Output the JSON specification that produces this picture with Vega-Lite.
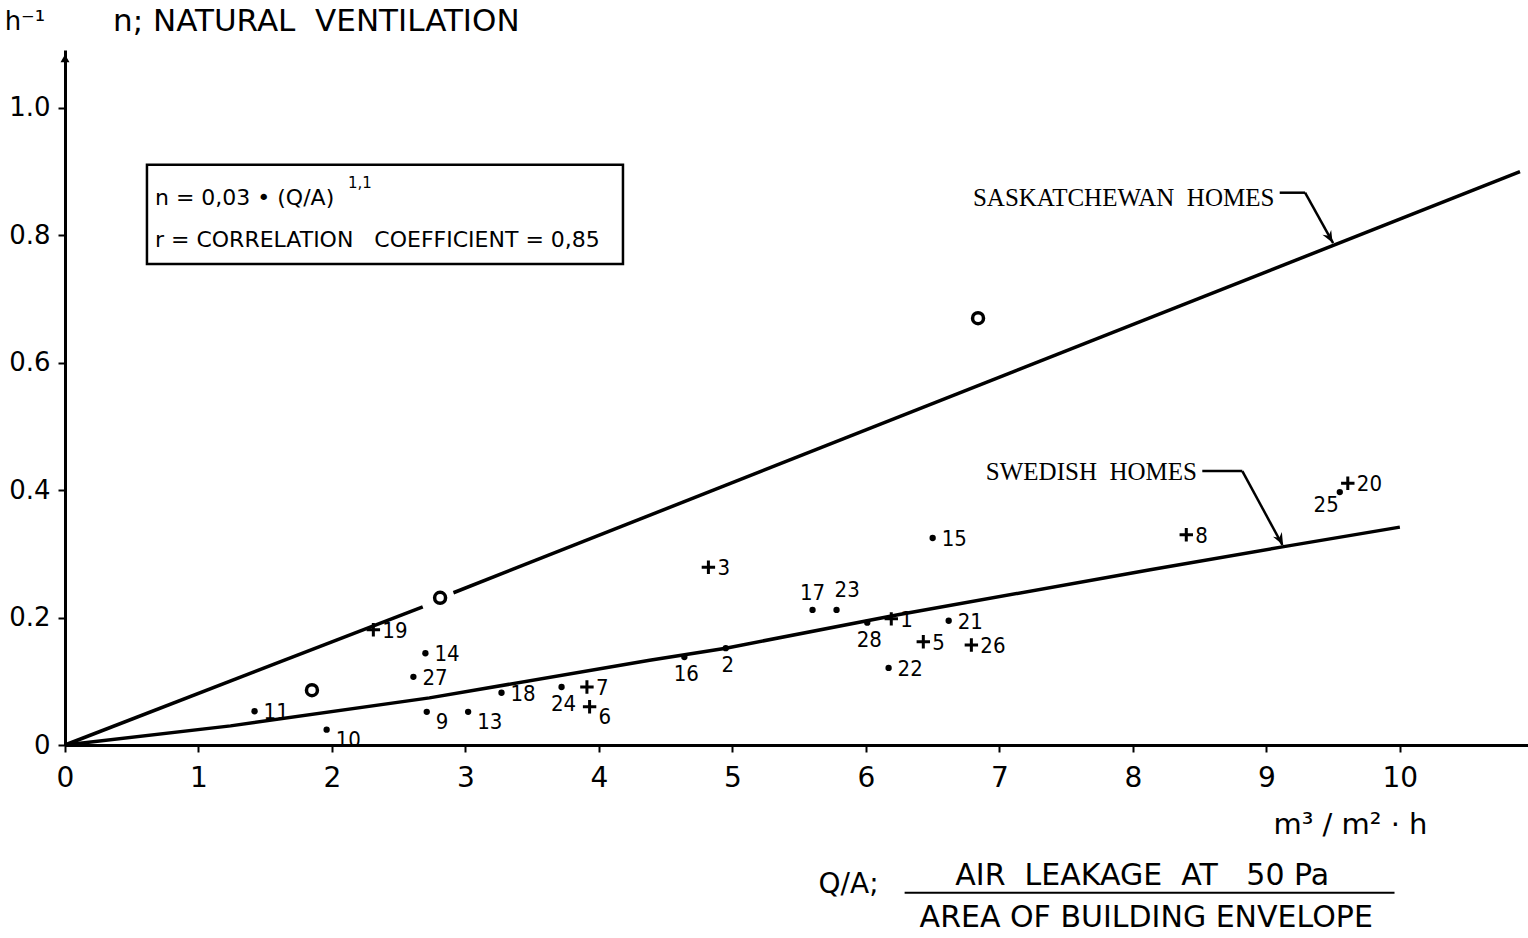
{
  "$schema": "https://vega.github.io/schema/vega-lite/v6.json",
  "width": 1463,
  "height": 695,
  "autosize": {"type": "none"},
  "padding": {"left": 65, "top": 50, "right": 0, "bottom": 193},
  "background": "white",
  "data": {"values": [{}]},
  "config": {
    "view": {"stroke": null},
    "font": "DejaVu Sans",
    "axis": {"grid": false, "domainColor": "black", "tickColor": "black", "labelColor": "black", "labelFont": "DejaVu Sans"},
    "text": {"color": "black", "font": "DejaVu Sans"}
  },
  "datasets": {
    "homes": [
      {"id": "1", "x": 6.19, "y": 0.198, "m": "plus", "p": "right"},
      {"id": "2", "x": 4.95, "y": 0.152, "m": "dot", "p": "below"},
      {"id": "3", "x": 4.82, "y": 0.279, "m": "plus", "p": "right"},
      {"id": "5", "x": 6.43, "y": 0.162, "m": "plus", "p": "right"},
      {"id": "6", "x": 3.93, "y": 0.060, "m": "plus", "p": "rightbelow"},
      {"id": "7", "x": 3.91, "y": 0.091, "m": "plus", "p": "right"},
      {"id": "8", "x": 8.40, "y": 0.330, "m": "plus", "p": "right"},
      {"id": "9", "x": 2.71, "y": 0.052, "m": "dot", "p": "rightbelow"},
      {"id": "10", "x": 1.96, "y": 0.024, "m": "dot", "p": "rightbelow"},
      {"id": "11", "x": 1.42, "y": 0.053, "m": "dot", "p": "right"},
      {"id": "13", "x": 3.02, "y": 0.052, "m": "dot", "p": "rightbelow"},
      {"id": "14", "x": 2.70, "y": 0.144, "m": "dot", "p": "right"},
      {"id": "15", "x": 6.50, "y": 0.325, "m": "dot", "p": "right"},
      {"id": "16", "x": 4.64, "y": 0.138, "m": "dot", "p": "below"},
      {"id": "17", "x": 5.60, "y": 0.212, "m": "dot", "p": "above"},
      {"id": "18", "x": 3.27, "y": 0.082, "m": "dot", "p": "right"},
      {"id": "19", "x": 2.31, "y": 0.181, "m": "plus", "p": "right"},
      {"id": "20", "x": 9.61, "y": 0.411, "m": "plus", "p": "right"},
      {"id": "21", "x": 6.62, "y": 0.195, "m": "dot", "p": "right"},
      {"id": "22", "x": 6.17, "y": 0.121, "m": "dot", "p": "right"},
      {"id": "23", "x": 5.78, "y": 0.212, "m": "dot", "p": "aboveright"},
      {"id": "24", "x": 3.72, "y": 0.091, "m": "dot", "p": "below"},
      {"id": "25", "x": 9.55, "y": 0.397, "m": "dot", "p": "leftbelow"},
      {"id": "26", "x": 6.79, "y": 0.157, "m": "plus", "p": "right"},
      {"id": "27", "x": 2.61, "y": 0.107, "m": "dot", "p": "right"},
      {"id": "28", "x": 6.01, "y": 0.192, "m": "dot", "p": "below"}
    ],
    "sask_points": [
      {"x": 1.85, "y": 0.086},
      {"x": 2.81, "y": 0.231},
      {"x": 6.84, "y": 0.670}
    ],
    "sask_line": [
      {"seg": "a", "x": 0, "y": 0},
      {"seg": "a", "x": 2.68, "y": 0.217},
      {"seg": "b", "x": 2.91, "y": 0.239},
      {"seg": "b", "x": 10.9, "y": 0.9}
    ],
    "swedish_line": [
      {"x": 0, "y": 0},
      {"x": 1.24, "y": 0.030},
      {"x": 2.73, "y": 0.074},
      {"x": 4.38, "y": 0.133},
      {"x": 4.95, "y": 0.152},
      {"x": 6.25, "y": 0.205},
      {"x": 8.13, "y": 0.275},
      {"x": 9.12, "y": 0.311},
      {"x": 10, "y": 0.342}
    ]
  },
  "layer": [
    {
      "data": {"name": "swedish_line"},
      "mark": {"type": "line", "color": "black", "strokeWidth": 3.5},
      "encoding": {
        "x": {"field": "x", "type": "quantitative", "title": null,
          "scale": {"domain": [0, 10.96], "nice": false, "zero": false},
          "axis": {"values": [0, 1, 2, 3, 4, 5, 6, 7, 8, 9, 10], "format": "d", "tickSize": 7, "tickWidth": 2, "domainWidth": 3, "labelFontSize": 28, "labelPadding": 12, "labelFlush": false, "labelOverlap": false}},
        "y": {"field": "y", "type": "quantitative", "title": null,
          "scale": {"domain": [0, 1.091], "nice": false, "zero": false},
          "axis": {"values": [0, 0.2, 0.4, 0.6, 0.8, 1.0], "tickSize": 7, "tickWidth": 2, "domainWidth": 3, "labelFontSize": 26, "labelPadding": 8, "labelFlush": false, "labelOverlap": false, "labelExpr": "datum.value == 0 ? '0' : format(datum.value, '.1f')"}}
      }
    },
    {
      "data": {"name": "sask_line"},
      "mark": {"type": "line", "color": "black", "strokeWidth": 3.5},
      "encoding": {
        "x": {"field": "x", "type": "quantitative", "title": null},
        "y": {"field": "y", "type": "quantitative", "title": null},
        "detail": {"field": "seg"}
      }
    },
    {
      "data": {"name": "sask_points"},
      "mark": {"type": "point", "shape": "circle", "filled": false, "color": "black", "strokeWidth": 3.5, "size": 120, "opacity": 1},
      "encoding": {
        "x": {"field": "x", "type": "quantitative", "title": null},
        "y": {"field": "y", "type": "quantitative", "title": null}
      }
    },
    {
      "data": {"name": "homes"},
      "transform": [{"filter": "datum.m == 'dot'"}],
      "mark": {"type": "point", "shape": "circle", "filled": true, "color": "black", "size": 40, "opacity": 1},
      "encoding": {
        "x": {"field": "x", "type": "quantitative", "title": null},
        "y": {"field": "y", "type": "quantitative", "title": null}
      }
    },
    {
      "data": {"name": "homes"},
      "transform": [{"filter": "datum.m == 'plus'"}],
      "mark": {"type": "point", "shape": "M-1,0L1,0M0,-1L0,1", "filled": false, "color": "black", "strokeWidth": 3, "size": 180, "opacity": 1},
      "encoding": {
        "x": {"field": "x", "type": "quantitative", "title": null},
        "y": {"field": "y", "type": "quantitative", "title": null}
      }
    },
    {
      "data": {"name": "homes"},
      "transform": [{"filter": "datum.p == 'right'"}],
      "mark": {"type": "text", "align": "left", "baseline": "middle", "dx": 9, "dy": 1, "fontSize": 22, "font": "DejaVu Sans Condensed, DejaVu Sans"},
      "encoding": {
        "x": {"field": "x", "type": "quantitative", "title": null},
        "y": {"field": "y", "type": "quantitative", "title": null},
        "text": {"field": "id"}
      }
    },
    {
      "data": {"name": "homes"},
      "transform": [{"filter": "datum.p == 'rightbelow'"}],
      "mark": {"type": "text", "align": "left", "baseline": "middle", "dx": 9, "dy": 10, "fontSize": 22, "font": "DejaVu Sans Condensed, DejaVu Sans"},
      "encoding": {
        "x": {"field": "x", "type": "quantitative", "title": null},
        "y": {"field": "y", "type": "quantitative", "title": null},
        "text": {"field": "id"}
      }
    },
    {
      "data": {"name": "homes"},
      "transform": [{"filter": "datum.p == 'below'"}],
      "mark": {"type": "text", "align": "center", "baseline": "top", "dx": 2, "dy": 7, "fontSize": 22, "font": "DejaVu Sans Condensed, DejaVu Sans"},
      "encoding": {
        "x": {"field": "x", "type": "quantitative", "title": null},
        "y": {"field": "y", "type": "quantitative", "title": null},
        "text": {"field": "id"}
      }
    },
    {
      "data": {"name": "homes"},
      "transform": [{"filter": "datum.p == 'above'"}],
      "mark": {"type": "text", "align": "center", "baseline": "bottom", "dx": 0, "dy": -5, "fontSize": 22, "font": "DejaVu Sans Condensed, DejaVu Sans"},
      "encoding": {
        "x": {"field": "x", "type": "quantitative", "title": null},
        "y": {"field": "y", "type": "quantitative", "title": null},
        "text": {"field": "id"}
      }
    },
    {
      "data": {"name": "homes"},
      "transform": [{"filter": "datum.p == 'aboveright'"}],
      "mark": {"type": "text", "align": "left", "baseline": "bottom", "dx": -2, "dy": -8, "fontSize": 22, "font": "DejaVu Sans Condensed, DejaVu Sans"},
      "encoding": {
        "x": {"field": "x", "type": "quantitative", "title": null},
        "y": {"field": "y", "type": "quantitative", "title": null},
        "text": {"field": "id"}
      }
    },
    {
      "data": {"name": "homes"},
      "transform": [{"filter": "datum.p == 'leftbelow'"}],
      "mark": {"type": "text", "align": "right", "baseline": "top", "dx": -1, "dy": 3, "fontSize": 22, "font": "DejaVu Sans Condensed, DejaVu Sans"},
      "encoding": {
        "x": {"field": "x", "type": "quantitative", "title": null},
        "y": {"field": "y", "type": "quantitative", "title": null},
        "text": {"field": "id"}
      }
    },
    {
      "mark": {"type": "rect", "fill": "white", "fillOpacity": 0, "stroke": "black", "strokeWidth": 2.5},
      "encoding": {
        "x": {"datum": 0.614}, "x2": {"datum": 4.18},
        "y": {"datum": 0.911}, "y2": {"datum": 0.755}
      }
    },
    {
      "mark": {"type": "text", "text": "n = 0,03 • (Q/A)", "align": "left", "baseline": "middle", "fontSize": 22},
      "encoding": {"x": {"datum": 0.674}, "y": {"datum": 0.858}}
    },
    {
      "mark": {"type": "text", "text": "1,1", "align": "left", "baseline": "middle", "fontSize": 15},
      "encoding": {"x": {"datum": 2.12}, "y": {"datum": 0.883}}
    },
    {
      "mark": {"type": "text", "text": "r = CORRELATION\u00a0\u00a0\u00a0COEFFICIENT = 0,85", "align": "left", "baseline": "middle", "fontSize": 22},
      "encoding": {"x": {"datum": 0.674}, "y": {"datum": 0.793}}
    },
    {
      "mark": {"type": "text", "text": "SASKATCHEWAN\u00a0\u00a0HOMES", "align": "right", "baseline": "middle", "fontSize": 25, "font": "Liberation Serif"},
      "encoding": {"x": {"datum": 9.06}, "y": {"datum": 0.859}}
    },
    {
      "mark": {"type": "text", "text": "SWEDISH\u00a0\u00a0HOMES", "align": "right", "baseline": "middle", "fontSize": 25, "font": "Liberation Serif"},
      "encoding": {"x": {"datum": 8.48}, "y": {"datum": 0.429}}
    },
    {
      "mark": {"type": "rule", "color": "black", "strokeWidth": 2.5},
      "encoding": {"x": {"datum": 9.10}, "x2": {"datum": 9.29}, "y": {"datum": 0.867}, "y2": {"datum": 0.867}}
    },
    {
      "mark": {"type": "rule", "color": "black", "strokeWidth": 2.5},
      "encoding": {"x": {"datum": 9.29}, "x2": {"datum": 9.50}, "y": {"datum": 0.867}, "y2": {"datum": 0.788}}
    },
    {
      "mark": {"type": "rule", "color": "black", "strokeWidth": 2.5},
      "encoding": {"x": {"datum": 8.52}, "x2": {"datum": 8.82}, "y": {"datum": 0.430}, "y2": {"datum": 0.430}}
    },
    {
      "mark": {"type": "rule", "color": "black", "strokeWidth": 2.5},
      "encoding": {"x": {"datum": 8.82}, "x2": {"datum": 9.12}, "y": {"datum": 0.430}, "y2": {"datum": 0.314}}
    },
    {
      "mark": {"type": "point", "shape": "M-0.5,-0.2L0,1L0.5,-0.2L0,0.2Z", "filled": true, "color": "black", "size": 400, "angle": -29, "opacity": 1},
      "encoding": {"x": {"datum": 9.46}, "y": {"datum": 0.802}}
    },
    {
      "mark": {"type": "point", "shape": "M-0.5,-0.2L0,1L0.5,-0.2L0,0.2Z", "filled": true, "color": "black", "size": 400, "angle": -28, "opacity": 1},
      "encoding": {"x": {"datum": 9.09}, "y": {"datum": 0.328}}
    },
    {
      "mark": {"type": "point", "shape": "triangle-up", "filled": true, "color": "black", "size": 80, "opacity": 1},
      "encoding": {"x": {"datum": 0}, "y": {"datum": 1.078}}
    },
    {
      "mark": {"type": "text", "text": "h⁻¹", "align": "center", "baseline": "middle", "fontSize": 26},
      "encoding": {"x": {"datum": -0.30}, "y": {"datum": 1.135}}
    },
    {
      "mark": {"type": "text", "text": "n; NATURAL\u00a0\u00a0VENTILATION", "align": "left", "baseline": "middle", "fontSize": 31},
      "encoding": {"x": {"datum": 0.36}, "y": {"datum": 1.135}}
    },
    {
      "mark": {"type": "text", "text": "m³ / m² · h", "align": "center", "baseline": "middle", "fontSize": 29},
      "encoding": {"x": {"datum": 9.63}, "y": {"datum": -0.126}}
    },
    {
      "mark": {"type": "text", "text": "Q/A;", "align": "center", "baseline": "middle", "fontSize": 28},
      "encoding": {"x": {"datum": 5.87}, "y": {"datum": -0.220}}
    },
    {
      "mark": {"type": "text", "text": "AIR\u00a0\u00a0LEAKAGE\u00a0\u00a0AT\u00a0\u00a0\u00a050\u00a0Pa", "align": "center", "baseline": "middle", "fontSize": 30},
      "encoding": {"x": {"datum": 8.07}, "y": {"datum": -0.205}}
    },
    {
      "mark": {"type": "rule", "color": "black", "strokeWidth": 2},
      "encoding": {"x": {"datum": 6.29}, "x2": {"datum": 9.96}, "y": {"datum": -0.232}, "y2": {"datum": -0.232}}
    },
    {
      "mark": {"type": "text", "text": "AREA OF  BUILDING  ENVELOPE", "align": "center", "baseline": "middle", "fontSize": 30},
      "encoding": {"x": {"datum": 8.10}, "y": {"datum": -0.272}}
    }
  ]
}
